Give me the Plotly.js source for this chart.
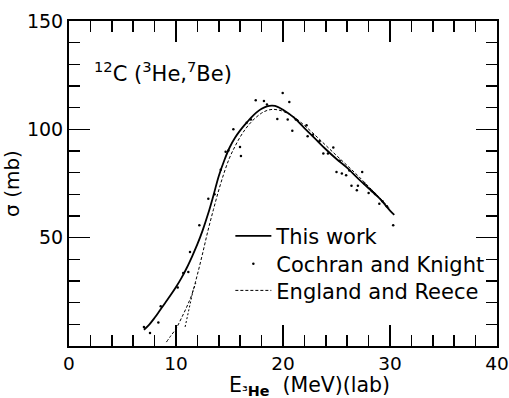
<!DOCTYPE html>
<html>
<head>
<meta charset="utf-8">
<script src="https://cdn.plot.ly/plotly-3.0.1.min.js"></script>
<style>
html,body{margin:0;padding:0;background:#fff;}
#chart{width:509px;height:398px;}
</style>
</head>
<body>
<div id="chart"></div>
<script>
// "This work" (solid curve)
const thisWorkX = [7, 7.5, 8, 8.5, 9, 9.5, 10, 10.5, 11, 11.5, 12, 12.5, 13, 13.5, 14, 14.5, 15, 15.5, 16, 16.5, 17, 17.5, 18, 18.5, 19, 19.5, 20, 21, 22, 23, 24, 25, 26, 27, 28, 29, 30, 30.4];
const thisWorkY = [7.5, 9.9, 13, 16.5, 20, 23.5, 27.2, 31.3, 36, 41.3, 47, 53.5, 61, 69.5, 78.5, 85.5, 91.5, 96, 99.5, 102.5, 105.3, 107.7, 109.5, 110.6, 110.9, 110.4, 109, 105.5, 100.6, 95.7, 90.8, 86.3, 82.2, 77.4, 72.8, 68.2, 62.5, 60.5];

// "England and Reece" (dashed curve)
const englandX = [9.1, 9.5, 10, 10.5, 11, 11.5, 12, 12.5, 13, 13.5, 14, 14.5, 15, 15.5, 16, 16.5, 17, 17.5, 18, 18.5, 19, 19.5, 20, 21, 22, 23, 24, 25, 26, 27, 28, 29, 30];
const englandY = [1.8, 4.6, 8, 12.8, 18, 24, 33, 43, 53.5, 63, 72, 80, 86.8, 92, 96.5, 100.2, 103.2, 105.6, 107.5, 108.7, 109.2, 109, 108.3, 105.8, 101.8, 97.3, 92.6, 87.9, 83.3, 78.6, 73.6, 68.6, 63.3];

// Second low-energy branch (fine dotted curve)
const branchX = [10.85, 11.1, 11.35, 11.6, 11.85];
const branchY = [8.8, 14, 20, 25.7, 29];

// "Cochran and Knight" (data points)
const cochranX = [7.0, 7.57, 8.35, 8.57, 10.16, 10.68, 11.15, 11.31, 12.18, 13.02, 13.6, 14.18, 14.64, 14.9, 15.36, 15.98, 16.07, 16.6, 17.0, 17.45, 18.22, 18.5, 19.47, 19.97, 20.59, 20.44, 20.87, 21.2, 22.2, 22.3, 22.8, 23.4, 23.77, 24.2, 24.7, 25.0, 25.3, 25.5, 25.9, 26.2, 26.4, 26.9, 27.0, 27.4, 27.6, 28.0, 28.3, 28.6, 29.0, 29.3, 29.7, 30.3];
const cochranY = [8.8, 6.0, 10.8, 18.3, 27, 33.7, 34.2, 43.4, 55.7, 68, 70, 81.4, 89.6, 90.2, 100, 91.9, 87.7, 103, 104.5, 113.4, 113.1, 111.5, 104.8, 116.8, 112.6, 104.5, 99.3, 104.5, 101.9, 96.8, 97.5, 94.5, 88.8, 88.8, 91.6, 80.3, 85.5, 79.6, 78.8, 81, 74.0, 71.9, 74.0, 80.3, 75, 70.6, 71.5, 70.2, 65.7, 66.8, 64.5, 55.7];

const xTickVals = [0, 10, 20, 30, 40];
const xTickText = ['0', '10', '20', '30', '40'];
const yTickVals = [0, 50, 100, 150];
const yTickText = ['', '50', '100', '150'];

const FONT = 'DejaVu Sans, sans-serif';

const traces = [
  {x: thisWorkX, y: thisWorkY, mode: 'lines', name: 'This work', legend: 'legend',
   line: {color: '#000', width: 1.8, shape: 'spline'}},
  {x: cochranX, y: cochranY, mode: 'markers', name: 'Cochran and Knight', legend: 'legend2',
   marker: {color: '#000', size: 2.5}},
  {x: englandX, y: englandY, mode: 'lines', name: 'England and Reece', legend: 'legend3',
   line: {color: '#000', width: 1, dash: '3px,2px', shape: 'spline'}},
  {x: branchX, y: branchY, mode: 'lines', showlegend: false, hoverinfo: 'skip',
   line: {color: '#000', width: 1, dash: '2px,2px'}}
];

function legendAt(yPaper) {
  return {x: 0.377, y: yPaper, xanchor: 'left', yanchor: 'middle',
          bgcolor: 'rgba(0,0,0,0)', borderwidth: 0, itemwidth: 36,
          font: {family: FONT, size: 21, color: '#000'}};
}

const layout = {
  width: 509, height: 398,
  margin: {l: 69, r: 12, t: 21, b: 52},
  paper_bgcolor: '#fff', plot_bgcolor: '#fff',
  font: {family: FONT, color: '#000', size: 19},
  showlegend: true,
  legend: legendAt(0.338),
  legend2: legendAt(0.252),
  legend3: legendAt(0.170),
  xaxis: {
    range: [-0.001, 40.001], tickvals: xTickVals, ticktext: xTickText, ticks: 'inside', ticklen: 21, tickwidth: 1.5,
    tickcolor: '#000', showline: true, linewidth: 2, linecolor: '#000', mirror: 'ticks',
    ticklabeloverflow: 'allow',
    showgrid: false, zeroline: false, tickfont: {family: FONT, size: 18.5},
    minor: {dtick: 2, tick0: 0, ticks: 'inside', ticklen: 11, tickwidth: 1.5, tickcolor: '#000', showgrid: false}
  },
  yaxis: {
    range: [0, 150], tickvals: yTickVals, ticktext: yTickText, ticks: 'inside', ticklen: 21, tickwidth: 1.5,
    tickcolor: '#000', showline: true, linewidth: 2, linecolor: '#000', mirror: 'ticks',
    showgrid: false, zeroline: false, tickfont: {family: FONT, size: 19},
    title: {text: 'σ (mb)', font: {family: FONT, size: 20}, standoff: 4},
    minor: {dtick: 10, tick0: 0, ticks: 'inside', ticklen: 11, tickwidth: 1.5, tickcolor: '#000', showgrid: false}
  },
  annotations: [
    {xref: 'x', yref: 'y', x: 2.15, y: 126.4, xanchor: 'left', yanchor: 'middle', showarrow: false,
     text: '<sup>12</sup>C (<sup>3</sup>He,<sup>7</sup>Be)', font: {family: FONT, size: 21, color: '#000'}},
    {xref: 'paper', yref: 'paper', x: 0.563, y: -0.124, xanchor: 'center', yanchor: 'middle', showarrow: false,
     text: 'E<sub>³<b>He</b></sub>  (MeV)(lab)', font: {family: FONT, size: 20.5, color: '#000'}}
  ]
};

Plotly.newPlot('chart', traces, layout, {displayModeBar: false, staticPlot: true});
</script>
</body>
</html>
